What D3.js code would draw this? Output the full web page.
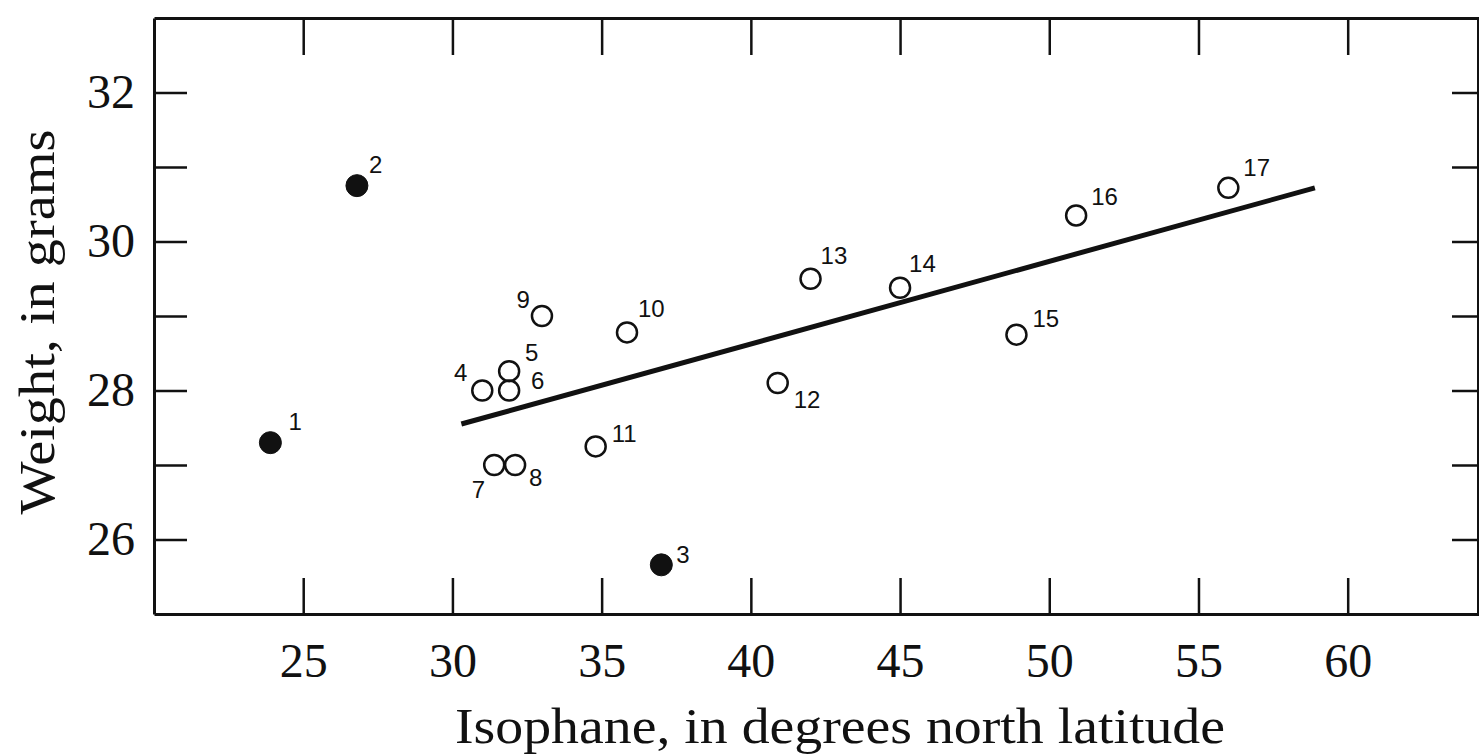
<!DOCTYPE html>
<html>
<head>
<meta charset="utf-8">
<script src="https://cdn.jsdelivr.net/npm/d3@7"></script>
<style>
  body { margin: 0; background: #fff; }
  svg { display: block; }
  .axis path, .axis line { stroke: #111; }
  .axis text { font-family: "Liberation Serif", serif; fill: #111; }
  .num { font-family: "Liberation Sans", sans-serif; font-size: 24px; fill: #111; }
</style>
</head>
<body>
<svg id="chart"></svg>
<script>
// station number, latitude of isophane, mean weight
var stations = [1, 2, 3, 4, 5, 6, 7, 8, 9, 10, 11, 12, 13, 14, 15, 16, 17];
var isophane = [23.9, 26.8, 37.0, 31.0, 31.9, 31.9, 31.4, 32.1, 33.0, 35.85, 34.8, 40.9, 42.0, 45.0, 48.9, 50.9, 56.0];
var weight   = [27.3, 30.75, 25.66, 28.0, 28.26, 28.0, 27.0, 27.0, 29.0, 28.78, 27.25, 28.1, 29.5, 29.38, 28.75, 30.35, 30.72];
var filled   = [true, true, true, false, false, false, false, false, false, false, false, false, false, false, false, false, false];

// regression line end points
var lineX = [30.3, 58.9];
var lineY = [27.55, 30.72];

var xTicks = [25, 30, 35, 40, 45, 50, 55, 60];
var yTicks = [26, 27, 28, 29, 30, 31, 32];

// where each number sits around its point (dx, dy, anchor)
var labelOffsets = [
  [18, -13, "start"], [12, -13, "start"], [15, -2, "start"], [-15, -10, "end"],
  [16, -10, "start"], [22, -2, "start"], [-9, 33, "end"], [14, 21, "start"],
  [-12, -8, "end"], [11, -15, "start"], [16, -4, "start"], [16, 25, "start"],
  [10, -15, "start"], [9, -16, "start"], [16, -8, "start"], [15, -10, "start"],
  [15, -12, "start"]
];

var w = 1479, h = 756;
var plotLeft = 154, plotRight = 1479, plotTop = 18, plotBottom = 614;

var svg = d3.select("#chart").attr("width", w).attr("height", h);

var x = d3.scaleLinear().domain([20, 64.4]).range([plotLeft, plotRight]);
var y = d3.scaleLinear().domain([25, 33]).range([plotBottom, plotTop]);

// bottom axis with labels
var xAxis = svg.append("g").attr("class", "axis")
  .attr("transform", "translate(0," + plotBottom + ")")
  .call(d3.axisBottom(x).tickValues(xTicks).tickSize(-36).tickSizeOuter(0).tickPadding(29));
xAxis.selectAll("text").style("font-size", "48px");

// top axis, ticks only
svg.append("g").attr("class", "axis")
  .attr("transform", "translate(0," + plotTop + ")")
  .call(d3.axisTop(x).tickValues(xTicks).tickSize(-37).tickSizeOuter(0).tickFormat(""));

// left axis, labels on even values
var yAxis = svg.append("g").attr("class", "axis")
  .attr("transform", "translate(" + plotLeft + ",0)")
  .call(d3.axisLeft(y).tickValues(yTicks).tickSize(-33).tickSizeOuter(0).tickPadding(19)
    .tickFormat(function(d) { return d % 2 == 0 ? d : ""; }));
yAxis.selectAll("text").style("font-size", "48px");

// right axis, ticks only
svg.append("g").attr("class", "axis")
  .attr("transform", "translate(" + (plotRight - 1) + ",0)")
  .call(d3.axisRight(y).tickValues(yTicks).tickSize(-26).tickSizeOuter(0).tickFormat(""));

svg.selectAll(".axis path").attr("stroke-width", 3);
svg.selectAll(".axis line").attr("stroke-width", 2.5);

// axis titles
svg.append("text")
  .attr("x", 840).attr("y", 743)
  .attr("text-anchor", "middle")
  .attr("textLength", 770).attr("lengthAdjust", "spacingAndGlyphs")
  .style("font-family", "'Liberation Serif', serif").style("font-size", "50px").style("fill", "#111")
  .text("Isophane, in degrees north latitude");

svg.append("text")
  .attr("transform", "translate(54,322) rotate(-90)")
  .attr("text-anchor", "middle")
  .attr("textLength", 385).attr("lengthAdjust", "spacingAndGlyphs")
  .style("font-family", "'Liberation Serif', serif").style("font-size", "50px").style("fill", "#111")
  .text("Weight, in grams");

// regression line
svg.append("line")
  .attr("x1", x(lineX[0])).attr("y1", y(lineY[0]))
  .attr("x2", x(lineX[1])).attr("y2", y(lineY[1]))
  .attr("stroke", "#111").attr("stroke-width", 5);

var pts = stations.map(function(s, i) {
  return { id: s, lat: isophane[i], wt: weight[i], filled: filled[i], off: labelOffsets[i] };
});

svg.append("g").selectAll("circle")
  .data(pts)
  .enter()
  .append("circle")
  .attr("cx", function(d) { return x(d.lat); })
  .attr("cy", function(d) { return y(d.wt); })
  .attr("r", function(d) { return d.filled ? 11 : 10; })
  .attr("fill", function(d) { return d.filled ? "#111" : "#fff"; })
  .attr("fill-opacity", function(d) { return d.filled ? 1 : 0; })
  .attr("stroke", "#111")
  .attr("stroke-width", function(d) { return d.filled ? 1 : 2.5; });

svg.append("g").selectAll("text")
  .data(pts)
  .enter()
  .append("text")
  .attr("class", "num")
  .attr("x", function(d) { return x(d.lat) + d.off[0]; })
  .attr("y", function(d) { return y(d.wt) + d.off[1]; })
  .attr("text-anchor", function(d) { return d.off[2]; })
  .text(function(d) { return d.id; });
</script>
</body>
</html>
